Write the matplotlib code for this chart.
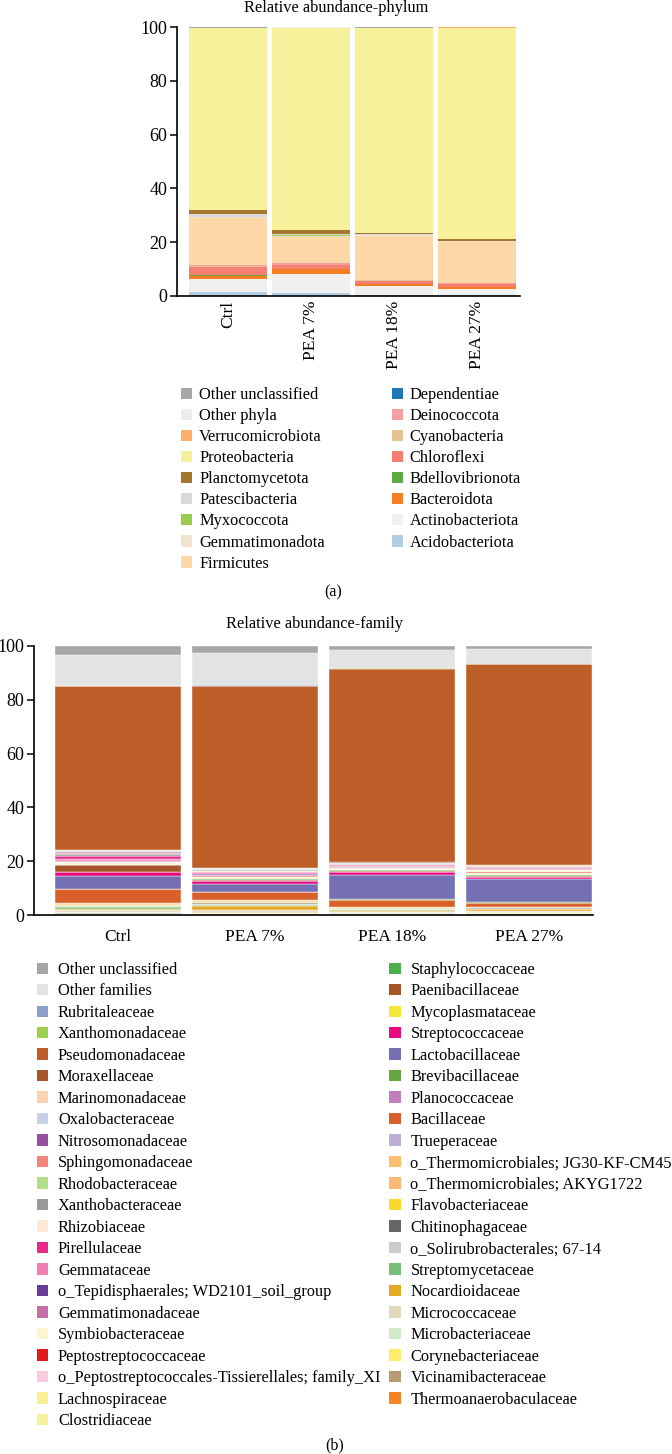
import matplotlib
matplotlib.use('Agg')
import matplotlib.pyplot as plt
from matplotlib.patches import Patch
import numpy as np

plt.rcParams['font.family'] = ['Liberation Serif', 'DejaVu Serif']

samples = ['Ctrl', 'PEA 7%', 'PEA 18%', 'PEA 27%']

# phyla, stacked from bottom to top
phyla = ['Acidobacteriota', 'Actinobacteriota', 'Bacteroidota', 'Bdellovibrionota',
         'Chloroflexi', 'Cyanobacteria', 'Deinococcota', 'Dependentiae', 'Firmicutes',
         'Gemmatimonadota', 'Myxococcota', 'Patescibacteria', 'Planctomycetota',
         'Proteobacteria', 'Verrucomicrobiota', 'Other phyla', 'Other unclassified']
phylum_colors = ['#b3cde3', '#f0f0f0', '#f47e21', '#60a844', '#f47f72', '#e6c394',
                 '#f4a0a0', '#1f78b4', '#fdd7a6', '#f2e3cf', '#9ccc4e', '#d9d9d9',
                 '#a6762d', '#f8f19b', '#fdae6b', '#ececec', '#a6a6a6']
ctrl_phylum = [1.5, 4.9, 1.2, 0.1, 3.2, 0.2, 0.5, 0.05, 17.3, 0.3, 0.2, 0.9, 1.8, 67.3, 0.2, 0.15, 0.2]
pea7_phylum = [1.2, 7.0, 1.7, 0.2, 1.4, 0.1, 0.5, 0.0, 9.9, 0.2, 0.5, 0.3, 1.6, 74.9, 0.2, 0.2, 0.2]
pea18_phylum = [0.3, 3.5, 0.7, 0.05, 1.2, 0.1, 0.2, 0.0, 16.4, 0.2, 0.05, 0.2, 0.4, 76.2, 0.1, 0.2, 0.2]
pea27_phylum = [0.2, 2.5, 0.5, 0.05, 1.1, 0.1, 0.3, 0.0, 15.2, 0.4, 0.05, 0.1, 0.7, 78.6, 0.1, 0.05, 0.05]

# families, stacked from bottom to top
families = ['Thermoanaerobaculaceae', 'Vicinamibacteraceae', 'Corynebacteriaceae',
            'Microbacteriaceae', 'Micrococcaceae', 'Nocardioidaceae', 'Streptomycetaceae',
            'o_Solirubrobacterales; 67-14', 'Chitinophagaceae', 'Flavobacteriaceae',
            'o_Thermomicrobiales; AKYG1722', 'o_Thermomicrobiales; JG30-KF-CM45',
            'Trueperaceae', 'Bacillaceae', 'Planococcaceae', 'Brevibacillaceae',
            'Lactobacillaceae', 'Streptococcaceae', 'Mycoplasmataceae', 'Paenibacillaceae',
            'Staphylococcaceae', 'Clostridiaceae', 'Lachnospiraceae',
            'o_Peptostreptococcales-Tissierellales; family_XI', 'Peptostreptococcaceae',
            'Symbiobacteraceae', 'Gemmatimonadaceae', 'o_Tepidisphaerales; WD2101_soil_group',
            'Gemmataceae', 'Pirellulaceae', 'Rhizobiaceae', 'Xanthobacteraceae',
            'Rhodobacteraceae', 'Sphingomonadaceae', 'Nitrosomonadaceae', 'Oxalobacteraceae',
            'Marinomonadaceae', 'Moraxellaceae', 'Pseudomonadaceae', 'Xanthomonadaceae',
            'Rubritaleaceae', 'Other families', 'Other unclassified']
family_colors = ['#f58426', '#b89b75', '#fced6f', '#cfe9c9', '#e5d8c0', '#e5aa25',
                 '#78c07a', '#cccccc', '#666666', '#fcd62d', '#fdb871', '#fdbf6f',
                 '#bcaed6', '#d95f2b', '#c27fbd', '#66a643', '#7570b3', '#e8097f',
                 '#f5e83a', '#a65628', '#4daf4a', '#f8f19c', '#f9ef94', '#f7cbdf',
                 '#e31a1c', '#fbf7cc', '#c76fa7', '#6a3d9a', '#f07fb4', '#e7298a',
                 '#fde9d5', '#999999', '#b2df8a', '#f4837b', '#984ea3', '#c6d1e8',
                 '#fdd0b0', '#a8552a', '#bd5d28', '#9dcf4f', '#8da0cb', '#e3e3e3',
                 '#a6a6a6']
ctrl_family = [0.3, 0.4, 0.2, 0.3, 0.8, 0.4, 0.6, 0.3, 0.1, 0.3, 0.3, 0.4, 0.2,
               5.0, 0.1, 0.0, 4.7, 1.6, 0.1, 2.5, 0.1, 0.3, 0.2, 0.2, 0.1, 0.2, 0.2,
               0.1, 0.8, 1.0, 0.3, 0.5, 0.2, 0.4, 0.2, 0.5, 0.1, 0.1,
               60.9, 0.05, 0.05, 11.4, 3.5]
pea7_family = [0.2, 0.2, 0.2, 0.3, 1.1, 1.3, 0.6, 0.3, 0.2, 0.3, 0.4, 0.4, 0.2,
               2.7, 0.1, 0.1, 3.1, 0.8, 0.2, 0.4, 0.3, 0.3, 0.3, 0.2, 0.2, 0.2, 0.4,
               0.2, 0.6, 0.3, 0.2, 0.3, 0.4, 0.1, 0.1, 0.1, 0.1, 0.1,
               67.7, 0.1, 0.05, 12.1, 2.6]
pea18_family = [0.1, 0.2, 0.2, 0.3, 0.4, 0.4, 0.4, 0.3, 0.1, 0.2, 0.1, 0.1, 0.1,
                2.6, 0.1, 0.3, 9.0, 0.9, 0.3, 0.4, 0.2, 0.2, 0.2, 0.2, 0.1, 0.1, 0.2,
                0.1, 0.5, 0.2, 0.2, 0.1, 0.1, 0.1, 0.1, 0.3, 0.1, 0.1,
                72.0, 0.05, 0.05, 6.8, 1.5]
pea27_family = [0.1, 0.1, 0.6, 0.2, 0.5, 0.6, 0.2, 0.1, 0.05, 0.3, 0.1, 0.1, 0.1,
                1.5, 0.05, 0.05, 8.9, 0.5, 0.2, 0.2, 0.6, 0.2, 0.3, 0.2, 0.4, 0.5, 0.1,
                0.05, 0.4, 0.2, 0.2, 0.1, 0.3, 0.1, 0.05, 0.2, 0.1, 0.05,
                74.7, 0.05, 0.05, 5.6, 1.1]

W, H = 672, 1454
fig = plt.figure(figsize=(W / 100, H / 100), dpi=100)


def px_axes(x0, y0, x1, y1):
    # axes from pixel box (top-left origin)
    return fig.add_axes([x0 / W, 1 - y1 / H, (x1 - x0) / W, (y1 - y0) / H])


def stack(ax, names, colors, table, width, lw):
    data = np.array(table).T  # taxa x samples
    x = np.arange(len(samples))
    bottom = np.zeros(len(samples))
    for name, col, vals in zip(names, colors, data):
        ax.bar(x, vals, width, bottom=bottom, color=col, edgecolor='white',
               linewidth=lw, label=name)
        bottom += vals
    ax.set_ylim(0, 100)
    ax.set_yticks([0, 20, 40, 60, 80, 100])
    for s in ['top', 'right']:
        ax.spines[s].set_visible(False)
    for s in ['left', 'bottom']:
        ax.spines[s].set_linewidth(1.2)
    ax.tick_params(axis='y', labelsize=13, length=5, width=1.1, pad=2)
    ax.tick_params(axis='x', length=0)
    ax.set_xticks(x)


def legend(names, colors, x, y, tpad, cspace, lspace):
    handles = [Patch(facecolor=c, edgecolor='none', label=n)
               for n, c in zip(names, colors)][::-1]
    fig.legend(handles=handles, loc='upper left', bbox_to_anchor=(x / W, 1 - y / H),
               ncol=2, frameon=False, fontsize=11.8, handlelength=0.7,
               handleheight=0.7, handletextpad=tpad, columnspacing=cspace,
               labelspacing=lspace, borderpad=0, borderaxespad=0)


# (a) phylum
ax1 = px_axes(177, 27, 520, 296)
stack(ax1, phyla, phylum_colors,
      [ctrl_phylum, pea7_phylum, pea18_phylum, pea27_phylum], 0.94, 0)
ax1.set_xlim(-0.614, 3.52)
ax1.set_xticklabels(samples, rotation=90, fontsize=12.5, va='top')
fig.text(336 / W, 1 - 8 / H, 'Relative abundance-phylum', ha='center', va='center', fontsize=11.8)
legend(phyla, phylum_colors, 181, 387, 0.4, 4.1, 0.31)
fig.text(333 / W, 1 - 592 / H, '(a)', ha='center', va='center', fontsize=11.5)

# (b) family
ax2 = px_axes(34, 646, 593, 915)
stack(ax2, families, family_colors,
      [ctrl_family, pea7_family, pea18_family, pea27_family], 0.92, 0.3)
ax2.set_xlim(-0.613, 3.47)
ax2.set_xticklabels(samples, fontsize=12.5)
ax2.tick_params(axis='x', pad=10)
fig.text(314 / W, 1 - 624 / H, 'Relative abundance-family', ha='center', va='center', fontsize=11.8)
legend(families, family_colors, 37, 962, 0.58, 0.55, 0.335)
fig.text(335 / W, 1 - 1445 / H, '(b)', ha='center', va='center', fontsize=11.5)

fig.savefig('out.png', dpi=100)
